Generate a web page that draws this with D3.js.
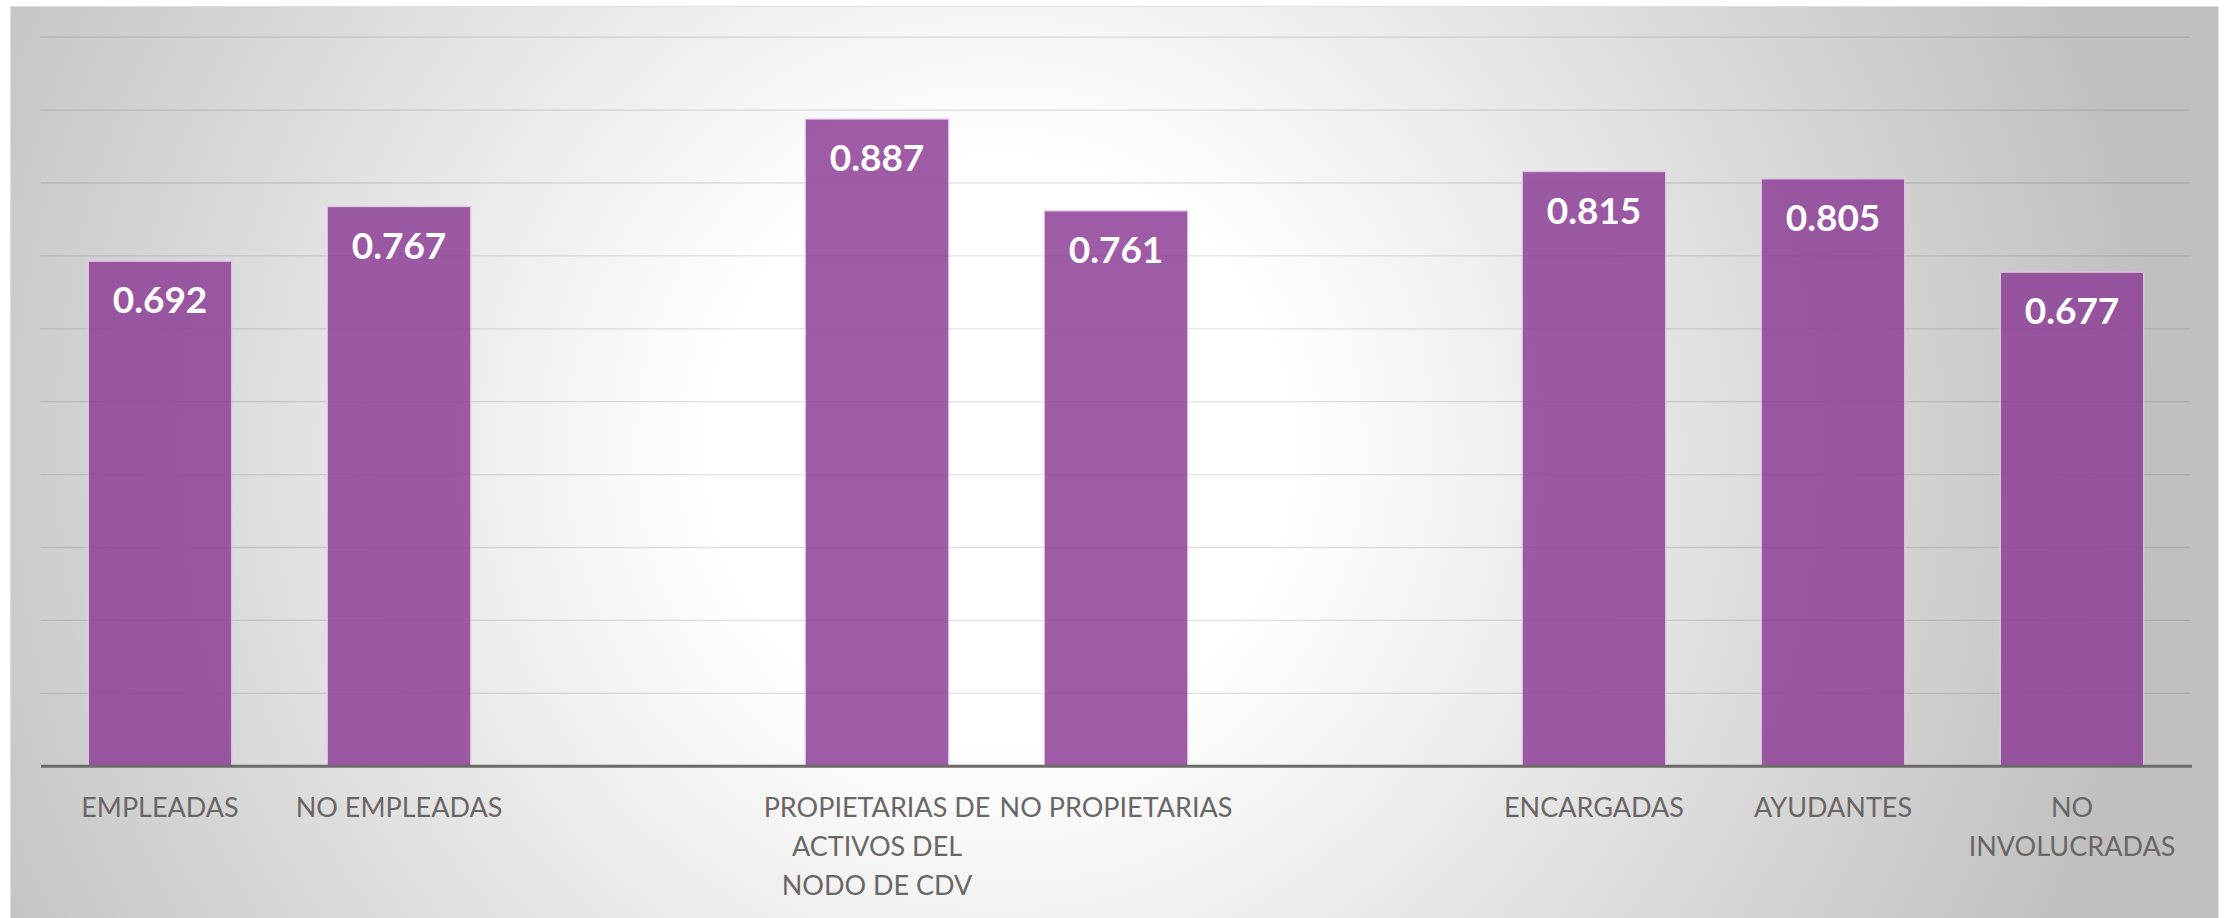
<!DOCTYPE html>
<html>
<head>
<meta charset="utf-8">
<script src="https://cdn.jsdelivr.net/npm/d3@7"></script>
<style>
  body { margin: 0; background: #ffffff; }
  svg { display: block; }
</style>
</head>
<body>
<div id="chart"></div>
<script>
// categories (empty strings are the blank gap slots of the original chart)
var categories = [
    "EMPLEADAS",
    "NO EMPLEADAS",
    "",
    "PROPIETARIAS DE\nACTIVOS DEL\nNODO DE CDV",
    "NO PROPIETARIAS",
    "",
    "ENCARGADAS",
    "AYUDANTES",
    "NO\nINVOLUCRADAS"
];
var values = [0.692, 0.767, null, 0.887, 0.761, null, 0.815, 0.805, 0.677];
var gridTicks = [0.1, 0.2, 0.3, 0.4, 0.5, 0.6, 0.7, 0.8, 0.9, 1.0];

var svgWidth = 2231;
var svgHeight = 918;

// plot area inside the chart box
var plot = { left: 40.5, right: 2191.5, top: 36.7, bottom: 765.7 };

var svg = d3.select("#chart")
    .append("svg")
    .attr("width", svgWidth)
    .attr("height", svgHeight);

// radial background like the office chart style
var defs = svg.append("defs");
var grad = defs.append("radialGradient")
    .attr("id", "bg")
    .attr("gradientUnits", "userSpaceOnUse")
    .attr("cx", 1000)
    .attr("cy", 450)
    .attr("r", 1160);
grad.append("stop").attr("offset", "0").attr("stop-color", "#ffffff");
grad.append("stop").attr("offset", "0.25").attr("stop-color", "#ffffff");
grad.append("stop").attr("offset", "1").attr("stop-color", "#c0c0c0");

svg.append("rect")
    .attr("x", 10.5)
    .attr("y", 6.5)
    .attr("width", 2208)
    .attr("height", 918)
    .attr("fill", "url(#bg)")
    .attr("stroke", "#dedede")
    .attr("stroke-width", 1);

var data = categories.map(function (c, i) {
    return { idx: i, label: c, value: values[i] };
});

var xScale = d3.scaleBand()
    .domain(data.map(d => d.idx))
    .range([plot.left, plot.right])
    .paddingInner(0.4)
    .paddingOuter(0.2);

var yScale = d3.scaleLinear()
    .domain([0, 1])
    .range([plot.bottom, plot.top]);

// gridlines
var grid = svg.append("g")
    .attr("transform", `translate(${plot.left}, 0)`)
    .call(d3.axisLeft(yScale)
        .tickValues(gridTicks)
        .tickSize(-(plot.right - plot.left - 2))
        .tickFormat(""));
grid.select(".domain").remove();
grid.selectAll(".tick line")
    .attr("stroke", "rgba(0,0,0,0.11)")
    .attr("stroke-width", 1.3);

// bars
var barData = data.filter(d => d.value !== null);

svg.append("g")
    .selectAll("rect")
    .data(barData)
    .enter()
    .append("rect")
    .attr("x", d => xScale(d.idx))
    .attr("y", d => yScale(d.value))
    .attr("width", xScale.bandwidth())
    .attr("height", d => yScale(0) - yScale(d.value))
    .attr("fill", "#8e3f97")
    .attr("fill-opacity", 0.85)
    .attr("stroke", "#e3c6e6")
    .attr("stroke-width", 1.2);

// value labels
svg.append("g")
    .selectAll("text")
    .data(barData)
    .enter()
    .append("text")
    .text(d => d.value.toFixed(3))
    .attr("x", d => xScale(d.idx) + xScale.bandwidth() / 2)
    .attr("y", d => yScale(d.value) + 52)
    .attr("text-anchor", "middle")
    .attr("fill", "#ffffff")
    .attr("font-family", "Lato, 'Open Sans', sans-serif")
    .attr("font-size", "37px")
    .style("font-weight", "bold");

// x axis line
var xAxis = svg.append("g")
    .attr("transform", `translate(0, ${yScale(0)})`)
    .call(d3.axisBottom(xScale).tickSize(0).tickFormat(""));
xAxis.select(".domain")
    .attr("stroke", "#6e6a6a")
    .attr("stroke-width", 3);

// category labels
var labels = svg.append("g")
    .selectAll("text")
    .data(data.filter(d => d.label !== ""))
    .enter()
    .append("text")
    .attr("x", d => xScale(d.idx) + xScale.bandwidth() / 2)
    .attr("y", 817)
    .attr("text-anchor", "middle")
    .attr("fill", "#6a6666")
    .attr("font-family", "Lato, 'Open Sans', sans-serif")
    .attr("font-size", "27px");

labels.selectAll("tspan")
    .data(d => d.label.split("\n").map(function (t) { return { t: t, x: xScale(d.idx) + xScale.bandwidth() / 2 }; }))
    .enter()
    .append("tspan")
    .attr("x", l => l.x)
    .attr("dy", (l, i) => i === 0 ? 0 : 39)
    .text(l => l.t);
</script>
</body>
</html>
